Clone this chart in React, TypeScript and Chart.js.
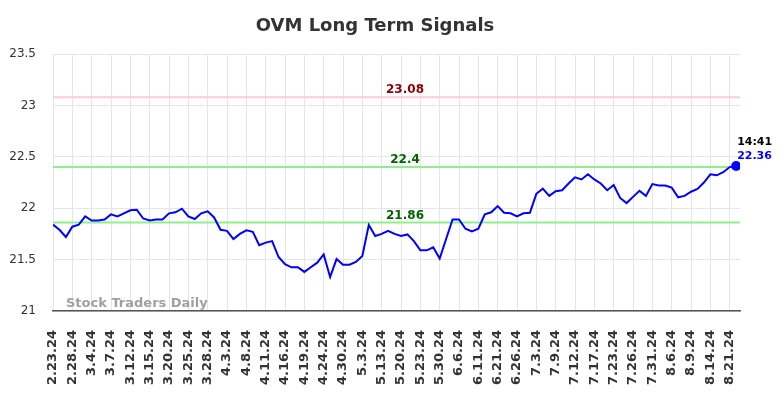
import React, { useEffect, useRef } from 'react';
import { Chart, registerables } from 'chart.js';

Chart.register(...registerables);

const dates: string[] = [
  '2.23.24', '2.26.24', '2.27.24', '2.28.24', '2.29.24', '3.1.24',
  '3.4.24', '3.5.24', '3.6.24', '3.7.24', '3.8.24', '3.11.24',
  '3.12.24', '3.13.24', '3.14.24', '3.15.24', '3.18.24', '3.19.24',
  '3.20.24', '3.21.24', '3.22.24', '3.25.24', '3.26.24', '3.27.24',
  '3.28.24', '4.1.24', '4.2.24', '4.3.24', '4.4.24', '4.5.24',
  '4.8.24', '4.9.24', '4.10.24', '4.11.24', '4.12.24', '4.15.24',
  '4.16.24', '4.17.24', '4.18.24', '4.19.24', '4.22.24', '4.23.24',
  '4.24.24', '4.25.24', '4.29.24', '4.30.24', '5.1.24', '5.2.24',
  '5.3.24', '5.8.24', '5.10.24', '5.13.24', '5.15.24', '5.17.24',
  '5.20.24', '5.21.24', '5.22.24', '5.23.24', '5.24.24', '5.28.24',
  '5.30.24', '6.3.24', '6.5.24', '6.6.24', '6.7.24', '6.10.24',
  '6.11.24', '6.13.24', '6.18.24', '6.21.24', '6.24.24', '6.25.24',
  '6.26.24', '6.28.24', '7.1.24', '7.3.24', '7.5.24', '7.8.24',
  '7.9.24', '7.10.24', '7.11.24', '7.12.24', '7.15.24', '7.16.24',
  '7.17.24', '7.19.24', '7.22.24', '7.23.24', '7.24.24', '7.25.24',
  '7.26.24', '7.29.24', '7.30.24', '7.31.24', '8.2.24', '8.5.24',
  '8.6.24', '8.7.24', '8.8.24', '8.9.24', '8.12.24', '8.13.24',
  '8.14.24', '8.16.24', '8.19.24', '8.21.24', '8.22.24',
];

const prices: number[] = [
  21.84, 21.79, 21.72, 21.82, 21.84, 21.92,
  21.88, 21.88, 21.89, 21.94, 21.92, 21.95,
  21.98, 21.985, 21.90, 21.88, 21.89, 21.89,
  21.95, 21.96, 21.995, 21.92, 21.895, 21.95,
  21.97, 21.91, 21.79, 21.78, 21.70, 21.75,
  21.785, 21.77, 21.64, 21.665, 21.68, 21.525,
  21.455, 21.425, 21.425, 21.38, 21.425, 21.47,
  21.55, 21.33, 21.505, 21.45, 21.45, 21.477,
  21.535, 21.836, 21.73, 21.75, 21.78, 21.75,
  21.73, 21.745, 21.68, 21.59, 21.59, 21.62,
  21.51, 21.70, 21.89, 21.89, 21.80, 21.775,
  21.80, 21.94, 21.96, 22.02, 21.956, 21.95,
  21.92, 21.95, 21.955, 22.14, 22.19, 22.12,
  22.165, 22.175, 22.24, 22.30, 22.28, 22.33,
  22.28, 22.24, 22.175, 22.225, 22.10, 22.05,
  22.11, 22.17, 22.12, 22.235, 22.22, 22.22,
  22.20, 22.106, 22.12, 22.16, 22.187, 22.25,
  22.33, 22.32, 22.35, 22.40, 22.41,
];

const signalLevels: number[] = [23.08, 22.4, 21.86];
const signalLabels: string[] = ['23.08', '22.4', '21.86'];
const signalLineColors: string[] = ['#ffcccc', '#90ee90', '#90ee90'];
const signalTextColors: string[] = ['#8b0000', '#006400', '#006400'];

const yMin = 21;
const yMax = 23.5;
const yStep = 0.5;
const xLabelEvery = 3;

const titleText = 'OVM Long Term Signals';
const watermarkText = 'Stock Traders Daily';
const lastTimeText = '14:41';
const lastValueText = '22.36';

const overlayPlugin = {
  id: 'overlay',
  beforeDatasetsDraw(chart: any) {
    const { ctx, chartArea, scales } = chart;
    const y = scales.y;
    ctx.save();
    signalLevels.forEach((lvl, i) => {
      const py = y.getPixelForValue(lvl);
      ctx.strokeStyle = signalLineColors[i];
      ctx.lineWidth = 2;
      ctx.beginPath();
      ctx.moveTo(chartArea.left, py);
      ctx.lineTo(chartArea.right, py);
      ctx.stroke();
    });
    ctx.font = 'bold 13px "DejaVu Sans"';
    ctx.fillStyle = '#a0a0a0';
    ctx.textAlign = 'left';
    ctx.textBaseline = 'alphabetic';
    ctx.fillText(watermarkText, 66, 307);
    ctx.restore();
  },
  afterDatasetsDraw(chart: any) {
    const { ctx, scales } = chart;
    const y = scales.y;
    const x = scales.x;
    ctx.save();
    ctx.font = 'bold 12px "DejaVu Sans"';
    ctx.textAlign = 'center';
    ctx.textBaseline = 'alphabetic';
    signalLevels.forEach((lvl, i) => {
      const py = y.getPixelForValue(lvl);
      ctx.fillStyle = signalTextColors[i];
      ctx.fillText(signalLabels[i], 405, py - 4);
    });
    const last = prices.length - 1;
    const px = x.getPixelForValue(last);
    const py = y.getPixelForValue(prices[last]);
    ctx.font = 'bold 11px "DejaVu Sans"';
    ctx.textAlign = 'left';
    ctx.textBaseline = 'middle';
    ctx.fillStyle = '#000000';
    ctx.fillText(lastTimeText, px + 1, py - 24);
    ctx.fillStyle = '#0000ff';
    ctx.fillText(lastValueText, px + 1, py - 10);
    ctx.font = 'bold 18px "DejaVu Sans"';
    ctx.textAlign = 'center';
    ctx.fillStyle = '#333333';
    ctx.fillText(titleText, 375, 26);
    ctx.restore();
  },
};

export default function App() {
  const canvasRef = useRef<HTMLCanvasElement | null>(null);

  useEffect(() => {
    document.body.style.margin = '0';
    const canvas = canvasRef.current;
    if (!canvas) return;
    const last = prices.length - 1;
    const chart = new Chart(canvas, {
      type: 'line',
      data: {
        datasets: [
          {
            data: prices.map((v, i) => ({ x: i, y: v })),
            borderColor: '#0000ff',
            backgroundColor: '#0000ff',
            borderWidth: 2,
            tension: 0,
            fill: false,
            pointRadius: (c: any) => (c.dataIndex === last ? 4 : 0),
            pointHoverRadius: 0,
          },
        ],
      },
      options: {
        responsive: false,
        animation: false,
        events: [],
        layout: { padding: { top: 54, right: 44, left: 0, bottom: 0 } },
        plugins: {
          legend: { display: false },
          title: { display: false },
          tooltip: { enabled: false },
        },
        scales: {
          x: {
            type: 'linear',
            min: 0,
            max: prices.length - 0.4,
            afterFit: (s: any) => {
              s.height = 87;
            },
            grid: { color: '#e6e6e6', lineWidth: 1, drawTicks: false },
            border: { display: true, color: '#555555', width: 1.5 },
            ticks: {
              stepSize: xLabelEvery,
              includeBounds: false,
              autoSkip: false,
              maxRotation: 90,
              minRotation: 90,
              padding: 19,
              color: '#333333',
              font: { family: '"DejaVu Sans"', size: 13, weight: 'bold' },
              callback: (v: any) => (Number.isInteger(v) && v % xLabelEvery === 0 ? dates[v] ?? '' : ''),
            },
          },
          y: {
            type: 'linear',
            min: yMin,
            max: yMax,
            afterFit: (s: any) => {
              s.width = 53;
            },
            grid: { color: '#e6e6e6', lineWidth: 1, drawTicks: false },
            border: { display: false },
            ticks: {
              stepSize: yStep,
              padding: 17,
              color: '#333333',
              font: { family: '"DejaVu Sans"', size: 12 },
              callback: (v: any) => String(v),
            },
          },
        },
      },
      plugins: [overlayPlugin],
    });
    return () => chart.destroy();
  }, []);

  return (
    <div style={{ width: 784, height: 398, background: '#ffffff' }}>
      <canvas ref={canvasRef} width={784} height={398} style={{ display: 'block', width: 784, height: 398 }} />
    </div>
  );
}
